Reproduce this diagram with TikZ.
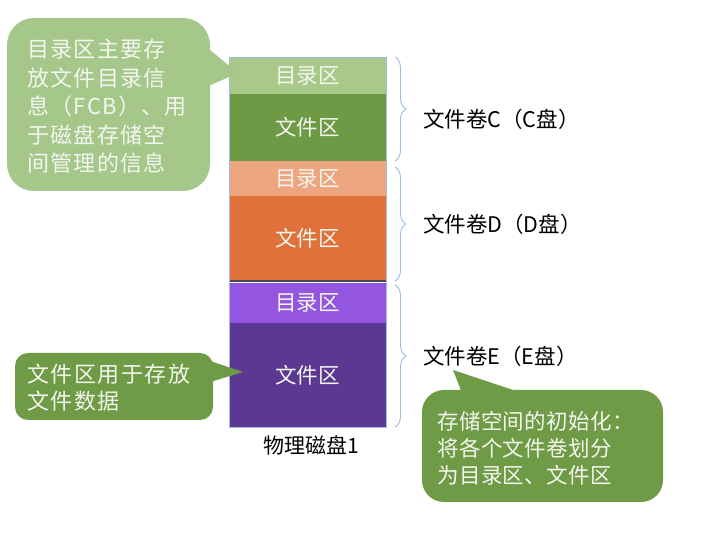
\documentclass[tikz,border=0pt]{standalone}
\usepackage{fontspec}
\setmainfont{Noto Sans CJK SC}
\usetikzlibrary{decorations.pathreplacing}
\definecolor{lgreen}{HTML}{A9C98B}
\definecolor{dgreen}{HTML}{6E9A45}
\definecolor{salmon}{HTML}{EDA680}
\definecolor{orangeD}{HTML}{E1713A}
\definecolor{lpurple}{HTML}{9455E0}
\definecolor{dpurple}{HTML}{5B3892}
\definecolor{bracec}{HTML}{9DBCE0}
\definecolor{callA}{HTML}{A5C78A}
\definecolor{callB}{HTML}{6F9B46}
\definecolor{sepc}{HTML}{3E4B5C}
\definecolor{lighttext}{HTML}{F2F6EE}
\begin{document}
\begin{tikzpicture}[x=1pt,y=-1pt,
  segbox/.style={draw=none, minimum width=157pt, inner sep=0pt, outer sep=0pt,
    text=lighttext, font=\fontsize{21.5}{22}\selectfont},
  vol/.style={anchor=west, inner sep=0pt, font=\fontsize{21.5}{22}\selectfont},
  brc/.style={draw=bracec, line width=0.9pt, decorate, decoration={brace, amplitude=11pt}},
  calltext/.style={text=lighttext, align=left, anchor=north west, inner sep=0pt}
]
\useasboundingbox (0,0) rectangle (713,545);
\fill[white] (0,0) rectangle (713,545);

% disk segments
\node[segbox, fill=lgreen, minimum height=37pt] (cdir) at (307.5,75.5) {目录区};
\node[segbox, fill=dgreen, minimum height=67pt] (cfile) at (307.5,127.5) {文件区};
\node[segbox, fill=salmon, minimum height=35.5pt] (ddir) at (307.5,178.75) {目录区};
\node[segbox, fill=orangeD, minimum height=84.5pt] (dfile) at (307.5,238.75) {文件区};
\node[segbox, fill=lpurple, minimum height=40pt] (edir) at (307.5,303) {目录区};
\node[segbox, fill=dpurple, minimum height=104pt] (efile) at (307.5,375) {文件区};
\draw[sepc, line width=2pt] (dfile.south west) -- (dfile.south east);
\draw[bracec, line width=0.8pt] (cdir.north west) rectangle (efile.south east);

\node[inner sep=0pt, font=\fontsize{21}{22}\selectfont] (disk) at (311,445) {物理磁盘1};

% braces
\coordinate (bc1) at (395,57);
\coordinate (bc2) at (395,161);
\coordinate (bd1) at (395,167);
\coordinate (bd2) at (395,281);
\coordinate (be1) at (395,285);
\coordinate (be2) at (395,427);
\draw[brc] (bc1) -- (bc2);
\draw[brc] (bd1) -- (bd2);
\draw[brc] (be1) -- (be2);

\node[vol] (volC) at (423,119) {文件卷C（C盘）};
\node[vol] (volD) at (423,224) {文件卷D（D盘）};
\node[vol] (volE) at (423,356) {文件卷E（E盘）};

% callout 1
\fill[callA] (7,18) [rounded corners=27pt] rectangle (210,191);
\fill[callA] (204,45) -- (238,73) -- (204,88) -- cycle;
\node[calltext, font=\fontsize{22}{28.5}\selectfont\addfontfeature{LetterSpace=6}] (t1) at (27,39)
  {目录区主要存\\放文件目录信\\息（FCB）、用\\于磁盘存储空\\间管理的信息};

% callout 2
\fill[callB] (15,353) [rounded corners=13pt] rectangle (213,420);
\fill[callB] (207,360) -- (243,372) -- (207,383) -- cycle;
\node[calltext, font=\fontsize{22}{27}\selectfont\addfontfeature{LetterSpace=7}] (t2) at (27,364)
  {文件区用于存放\\文件数据};

% callout 3
\fill[callB] (422,390) [rounded corners=22pt] rectangle (663,502);
\fill[callB] (462,393) -- (453,370) -- (522,393) -- cycle;
\node[calltext, font=\fontsize{21.5}{27}\selectfont\addfontfeature{LetterSpace=2}] (t3) at (437,411)
  {存储空间的初始化：\\将各个文件卷划分\\为目录区、文件区};
\end{tikzpicture}
\end{document}
